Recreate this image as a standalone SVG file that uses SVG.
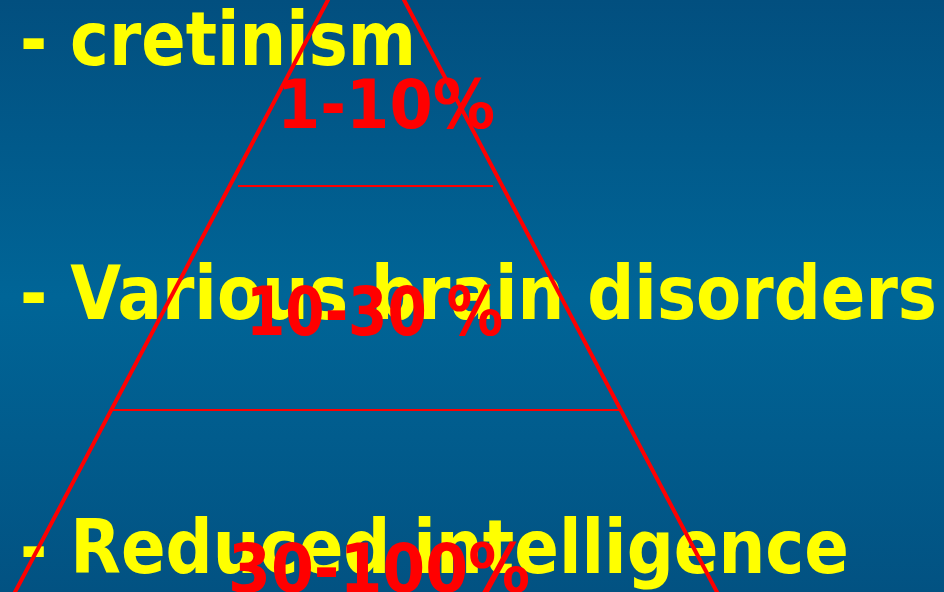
<svg xmlns="http://www.w3.org/2000/svg" width="944" height="592" viewBox="0 0 944 592">
<defs>
<linearGradient id="bg" x1="0" y1="0" x2="0" y2="1">
<stop offset="0" stop-color="#024f7f"/>
<stop offset="0.5" stop-color="#006597"/>
<stop offset="1" stop-color="#025282"/>
</linearGradient>
<style>
.y{font-family:"DejaVu Sans","Verdana",sans-serif;font-weight:bold;font-size:74px;fill:#ffff00}
.r{font-family:"DejaVu Sans","Verdana",sans-serif;font-weight:bold;font-size:67px;fill:#ff0000}
.side{stroke:#ff0000;stroke-width:4;fill:none}
.tier{stroke:#ff0000;stroke-width:2.2;fill:none}
</style>
</defs>
<rect x="0" y="0" width="944" height="592" fill="url(#bg)"/>
<g id="labels">
<text class="y" x="20" y="65" textLength="396" lengthAdjust="spacingAndGlyphs">- cretinism</text>
<text class="y" x="20" y="319" textLength="917" lengthAdjust="spacingAndGlyphs">- Various brain disorders</text>
<text class="y" x="20" y="573" textLength="829" lengthAdjust="spacingAndGlyphs">- Reduced intelligence</text>
</g>
<g id="connectors">
<line class="side" x1="329" y1="-2" x2="14" y2="594"/>
<line class="side" x1="403" y1="-2" x2="718" y2="594"/>
<line class="tier" x1="238" y1="186" x2="493" y2="186"/>
<line class="tier" x1="113" y1="410" x2="619" y2="410"/>
</g>
<g id="tier1"><text class="r" x="277" y="128" textLength="218" lengthAdjust="spacingAndGlyphs">1-10%</text></g>
<g id="tier2"><text class="r" x="246" y="335" textLength="257" lengthAdjust="spacingAndGlyphs">10-30 %</text></g>
<g id="tier3"><text class="r" x="228" y="592" textLength="302" lengthAdjust="spacingAndGlyphs">30-100%</text></g>
</svg>
